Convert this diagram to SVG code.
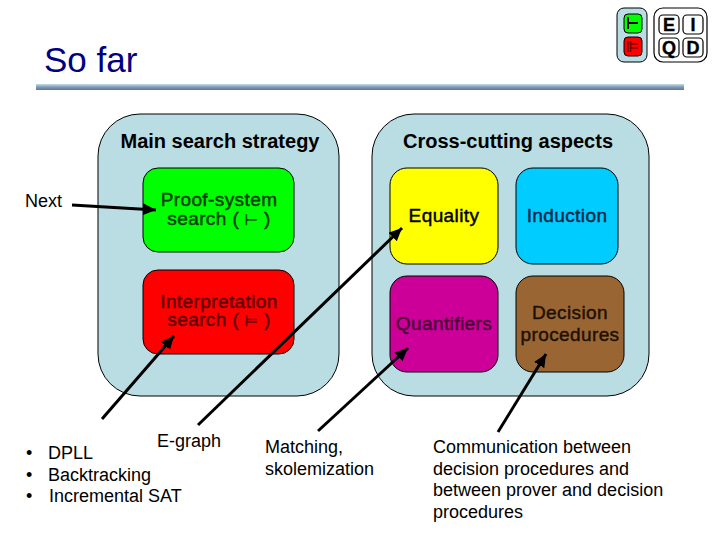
<svg xmlns="http://www.w3.org/2000/svg" width="720" height="540" viewBox="0 0 720 540">
<style>
text{font-family:"Liberation Sans",Arial,sans-serif;fill:#000}
.n{font-size:18px}
.b{font-size:20px;font-weight:bold;text-anchor:middle;font-size:20px}
.c{font-size:19px;letter-spacing:.4px;text-anchor:middle;stroke:#000;stroke-width:.45}
.s{font-family:"DejaVu Sans",sans-serif}
.p{stroke:#000;stroke-width:1;fill:#b9dde3}
.box{stroke:#000;stroke-width:1}
.ib{fill:#fff;stroke:#000;stroke-width:1.2}
.il{font-size:18px;font-weight:bold;text-anchor:middle;stroke:#000;stroke-width:.4}
.w{stroke:#000;stroke-width:3;fill:none;marker-end:url(#a)}
</style>
<defs>
<linearGradient id="r" x1="0" y1="0" x2="0" y2="1"><stop offset="0" stop-color="#c3e0e5"/><stop offset=".5" stop-color="#7f9cb8"/><stop offset="1" stop-color="#5f7596"/></linearGradient>
<marker id="a" markerUnits="userSpaceOnUse" markerWidth="14" markerHeight="14" refX="13" refY="6" orient="auto"><path d="M0 0L13 6L0 12Z" fill="#000"/></marker>
</defs>
<rect width="720" height="540" fill="#fff"/>
<g id="title"><text x="44" y="72" font-size="35" style="fill:#000080">So far</text><rect x="36" y="84" width="648" height="6" fill="url(#r)"/></g>
<g id="legend">
<rect x="617" y="8" width="30" height="54" rx="7" class="p"/>
<rect x="624" y="14" width="18" height="19" rx="4" class="box" fill="#00ff00"/>
<rect x="624" y="37" width="18" height="19" rx="4" class="box" fill="#ff0000"/>
<path d="M628 17V29M628 23H638" stroke="#000" stroke-width="2" fill="none"/>
<path d="M628 41V52M630.500 41V52M630 44H638M630 48H638" stroke="#7a0000" stroke-width="1.600" fill="none"/>
<rect x="654" y="8" width="53" height="54" rx="9" fill="#fff" stroke="#000" stroke-width="1.200"/>
<rect x="659" y="15" width="20" height="19" rx="4" class="ib"/><rect x="683" y="15" width="20" height="19" rx="4" class="ib"/>
<rect x="659" y="38" width="20" height="19" rx="4" class="ib"/><rect x="683" y="38" width="20" height="19" rx="4" class="ib"/>
<text x="669" y="31" class="il">E</text><text x="693" y="31" class="il">I</text><text x="669" y="54" class="il">Q</text><text x="693" y="54" class="il">D</text>
</g>
<g id="main-panel"><rect x="98" y="114" width="241" height="282" rx="42" class="p"/><text x="220" y="148" class="b">Main search strategy</text></g>
<g id="cross-panel"><rect x="372" y="114" width="277" height="282" rx="42" class="p"/><text x="508" y="148" class="b">Cross-cutting aspects</text></g>
<g id="proof"><rect x="143" y="168" width="151" height="84" rx="15" class="box" fill="#00ff00"/><text x="219" y="206" class="c" style="fill:#004000;stroke:#004000">Proof-system</text><text x="219" y="225" class="c" style="fill:#004000;stroke:#004000">search ( <tspan class="s" font-size="15">⊢</tspan> )</text></g>
<g id="interp"><rect x="143" y="270" width="151" height="84" rx="15" class="box" fill="#ff0000"/><text x="219" y="308" class="c" style="fill:#600000;stroke:#600000">Interpretation</text><text x="219" y="326" class="c" style="fill:#600000;stroke:#600000">search ( <tspan class="s" font-size="15">⊨</tspan> )</text></g>
<g id="equality"><rect x="390" y="168" width="108" height="96" rx="17" class="box" fill="#ffff00"/><text x="444" y="222" class="c">Equality</text></g>
<g id="induction"><rect x="516" y="168" width="102" height="96" rx="17" class="box" fill="#00ccff"/><text x="567" y="222" class="c" style="fill:#002a4a;stroke:#002a4a">Induction</text></g>
<g id="quantifiers"><rect x="390" y="276" width="108" height="96" rx="17" class="box" fill="#cc0099"/><text x="444" y="330" class="c" style="fill:#4a0038;stroke:#4a0038">Quantifiers</text></g>
<g id="decision"><rect x="516" y="276" width="108" height="96" rx="17" class="box" fill="#996633"/><text x="570" y="319" class="c" style="fill:#1f1000;stroke:#1f1000">Decision</text><text x="570" y="341" class="c" style="fill:#1f1000;stroke:#1f1000">procedures</text></g>
<g id="connectors">
<path class="w" d="M72 205L156 210"/>
<path class="w" d="M102 419L174 336"/>
<path class="w" d="M198 425L402 228"/>
<path class="w" d="M318 431L408 348"/>
<path class="w" d="M498 432L546 354"/>
</g>
<g id="labels">
<text x="25" y="207" class="n">Next</text>
<text x="157" y="447" class="n">E-graph</text>
<text x="265" y="453" class="n">Matching,</text><text x="265" y="475" class="n">skolemization</text>
<text x="26" y="459" class="n">•</text><text x="48" y="459" class="n">DPLL</text>
<text x="26" y="481" class="n">•</text><text x="48" y="481" class="n">Backtracking</text>
<text x="26" y="502" class="n">•</text><text x="49" y="502" class="n">Incremental SAT</text>
<text x="433" y="453" class="n">Communication between</text>
<text x="433" y="475" class="n">decision procedures and</text>
<text x="433" y="496" class="n">between prover and decision</text>
<text x="433" y="518" class="n">procedures</text>
</g>
</svg>
